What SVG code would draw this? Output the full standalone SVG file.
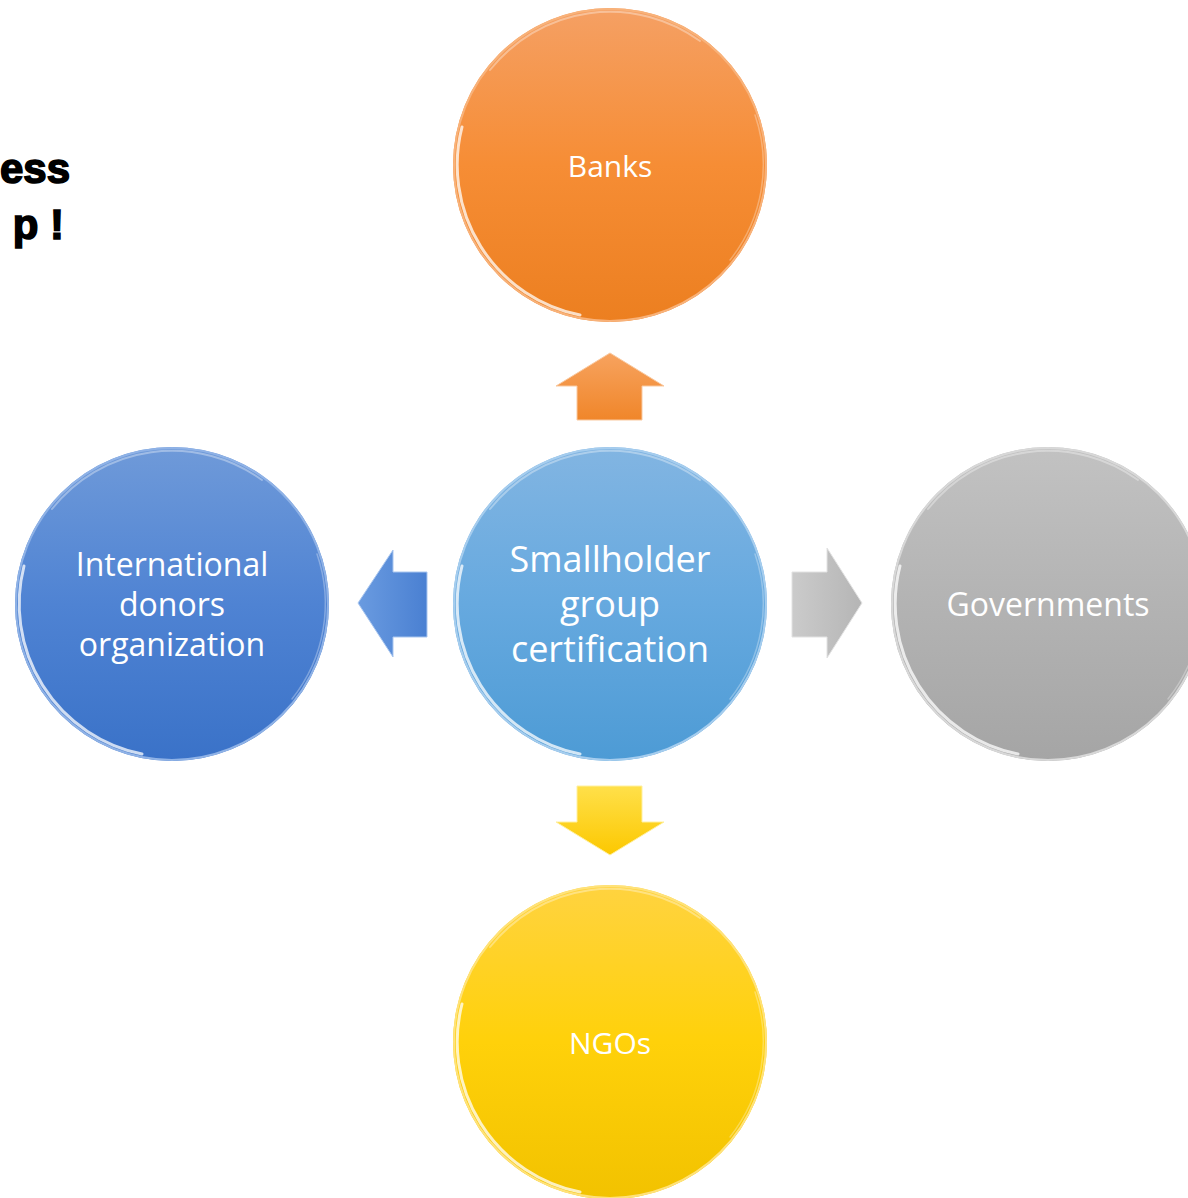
<svg xmlns="http://www.w3.org/2000/svg" width="1188" height="1198" viewBox="0 0 1188 1198">
<style>
.lbl{font-family:"Open Sans","Noto Sans","Liberation Sans",sans-serif;fill:#ffffff;text-anchor:middle}
.title{font-family:"Liberation Sans",Arial,sans-serif;font-weight:bold;font-size:42px;fill:#000000;stroke:#000000;stroke-width:1.6;text-anchor:end}
.gloss{fill:none;stroke:#ffffff;stroke-linecap:round}
.rim{fill:none;stroke-width:2}
</style>
<defs>
<linearGradient id="gOrange" x1="0" y1="0" x2="0" y2="1"><stop offset="0" stop-color="#f5a064"/><stop offset="0.5" stop-color="#f68d35"/><stop offset="1" stop-color="#ec7f20"/></linearGradient>
<linearGradient id="gCenter" x1="0" y1="0" x2="0" y2="1"><stop offset="0" stop-color="#82b5e2"/><stop offset="0.5" stop-color="#66a9df"/><stop offset="1" stop-color="#4d9bd5"/></linearGradient>
<linearGradient id="gBlue" x1="0" y1="0" x2="0" y2="1"><stop offset="0" stop-color="#6f9ad9"/><stop offset="0.5" stop-color="#4f83d3"/><stop offset="1" stop-color="#3a72c8"/></linearGradient>
<linearGradient id="gGray" x1="0" y1="0" x2="0" y2="1"><stop offset="0" stop-color="#c2c2c2"/><stop offset="0.5" stop-color="#b3b3b3"/><stop offset="1" stop-color="#a5a5a5"/></linearGradient>
<linearGradient id="gYellow" x1="0" y1="0" x2="0" y2="1"><stop offset="0" stop-color="#ffd340"/><stop offset="0.5" stop-color="#ffd10a"/><stop offset="1" stop-color="#f2c200"/></linearGradient>
<linearGradient id="aOrange" x1="0" y1="0" x2="0" y2="1"><stop offset="0" stop-color="#f7a35f"/><stop offset="1" stop-color="#f0862a"/></linearGradient>
<linearGradient id="aBlue" x1="0" y1="0" x2="1" y2="0"><stop offset="0" stop-color="#6a9be0"/><stop offset="1" stop-color="#4a80d2"/></linearGradient>
<linearGradient id="aGray" x1="0" y1="0" x2="1" y2="0"><stop offset="0" stop-color="#cbcbcb"/><stop offset="1" stop-color="#b5b5b5"/></linearGradient>
<linearGradient id="aYellow" x1="0" y1="0" x2="0" y2="1"><stop offset="0" stop-color="#ffe04a"/><stop offset="1" stop-color="#fcc800"/></linearGradient>
<g id="gloss">
<path class="gloss" d="M -30 150 A 153 153 0 0 1 -148 -38" stroke-width="3" stroke-opacity="0.75"/>
<path class="gloss" d="M -120 -95 A 153 153 0 0 1 90 -124" stroke-width="2" stroke-opacity="0.35"/>
<path class="gloss" d="M 145 -50 A 153 153 0 0 1 120 95" stroke-width="1.5" stroke-opacity="0.3"/>
</g>
</defs>

<text class="title" x="70" y="183">ess</text>
<text class="title" x="64" y="239">p !</text>

<g id="connectors">
<polygon id="arrow-up" points="610,353 664,386 642,386 642,420 577,420 577,386 556,386" fill="url(#aOrange)" stroke="#f9c9a0" stroke-width="1"/>
<polygon id="arrow-left" points="358,603 393,550 393,572 427,572 427,637 393,637 393,657" fill="url(#aBlue)" stroke="#a9c6ef" stroke-width="1"/>
<polygon id="arrow-right" points="862,603 827,548 827,572 792,572 792,637 827,637 827,658" fill="url(#aGray)" stroke="#e2e2e2" stroke-width="1"/>
<polygon id="arrow-down" points="610,855 664,822 642,822 642,786 577,786 577,822 556,822" fill="url(#aYellow)" stroke="#fff0a0" stroke-width="1"/>
</g>

<g id="node-banks" transform="translate(610,165)">
<circle r="157" fill="url(#gOrange)"/>
<circle class="rim" r="156" stroke="#f8b27a"/>
<use href="#gloss"/>
<text class="lbl" x="0" y="12" font-size="30">Banks</text>
</g>

<g id="node-center" transform="translate(610,604)">
<circle r="157" fill="url(#gCenter)"/>
<circle class="rim" r="156" stroke="#a6cdee"/>
<use href="#gloss"/>
<text class="lbl" font-size="36"><tspan x="0" y="-32">Smallholder</tspan><tspan x="0" y="13">group</tspan><tspan x="0" y="58">certification</tspan></text>
</g>

<g id="node-donors" transform="translate(172,604)">
<circle r="157" fill="url(#gBlue)"/>
<circle class="rim" r="156" stroke="#8fb2e6"/>
<use href="#gloss"/>
<text class="lbl" font-size="32"><tspan x="0" y="-28">International</tspan><tspan x="0" y="12">donors</tspan><tspan x="0" y="52">organization</tspan></text>
</g>

<g id="node-governments" transform="translate(1048,604)">
<circle r="157" fill="url(#gGray)"/>
<circle class="rim" r="156" stroke="#d8d8d8"/>
<use href="#gloss"/>
<text class="lbl" x="0" y="12" font-size="32">Governments</text>
</g>

<g id="node-ngos" transform="translate(610,1042)">
<circle r="157" fill="url(#gYellow)"/>
<circle class="rim" r="156" stroke="#ffe27a"/>
<use href="#gloss"/>
<text class="lbl" x="0" y="12" font-size="30">NGOs</text>
</g>
</svg>
